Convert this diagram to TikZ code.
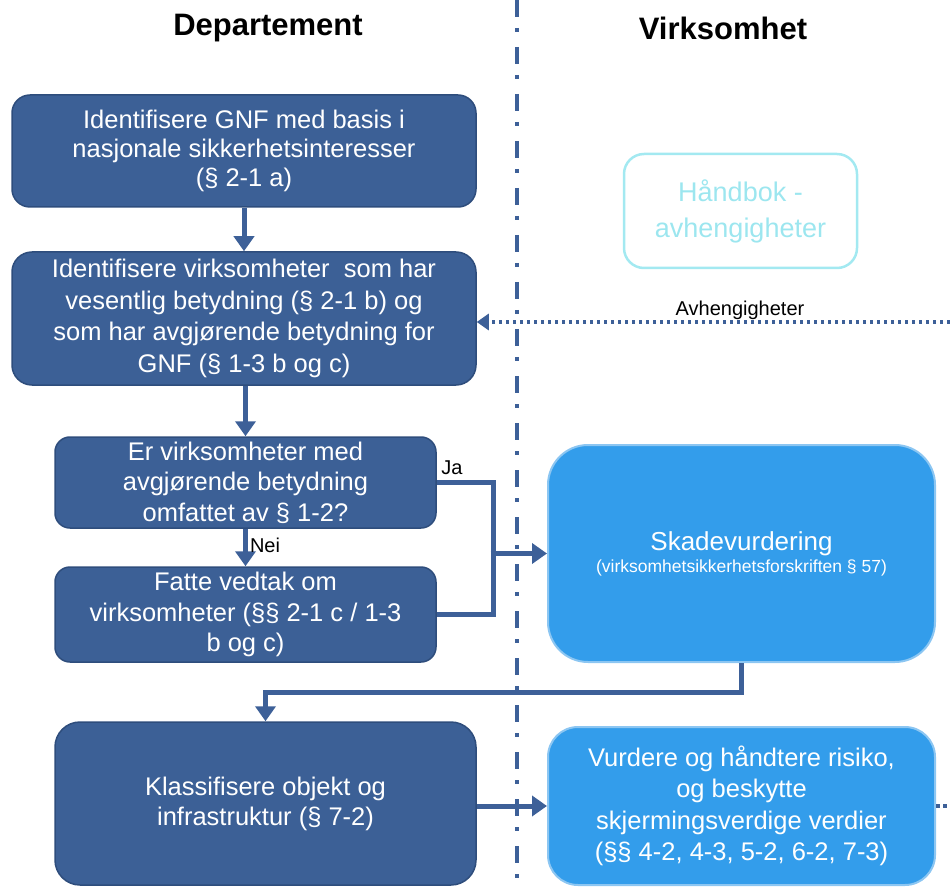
\documentclass[tikz,border=0pt]{standalone}
\usepackage{fontspec}
\setmainfont{Liberation Sans}
\usetikzlibrary{arrows.meta}
\definecolor{dkblue}{HTML}{3C6096}
\definecolor{dkborder}{HTML}{2E4D7C}
\definecolor{ltblue}{HTML}{339DEB}
\definecolor{ltborder}{HTML}{8CC6F2}
\definecolor{cyanline}{HTML}{A3E9F1}
\definecolor{cyantext}{HTML}{9CE6EF}
\definecolor{linecol}{HTML}{3D6098}
\tikzset{
  dkbox/.style={draw=dkborder, line width=1.5pt, fill=dkblue, text=white, align=center,
    font=\fontsize{25.5}{29}\selectfont, inner sep=0pt},
  ltbox/.style={draw=ltborder, line width=2pt, fill=ltblue, text=white, align=center,
    inner sep=0pt},
  conn/.style={draw=linecol, line width=5pt},
  arr/.style={conn, -{Triangle[width=20pt,length=15pt]}},
  dotconn/.style={draw=linecol, line width=3.5pt, dash pattern=on 3.5pt off 3.5pt},
  title/.style={font=\fontsize{31}{34}\selectfont\bfseries},
  lbl/.style={font=\fontsize{20}{22}\selectfont, text=black, inner sep=0pt}
}
\begin{document}
\begin{tikzpicture}[x=1pt,y=-1pt]
\useasboundingbox (0,0) rectangle (950,890);
% titles
\node[title] (t1) at (268,28) {Departement};
\node[title] (t2) at (723,28) {Virksomhet};
% divider
\coordinate (dv1) at (517,0);
\coordinate (dv2) at (517,890);
\draw[draw=linecol, line width=4pt, dash pattern=on 17pt off 11pt on 4pt off 15pt] (dv1) -- (dv2);
% boxes
\node[dkbox, rounded corners=18pt, minimum width=464pt, minimum height=112pt] (b1) at (244,151)
  {Identifisere GNF med basis i\\nasjonale sikkerhetsinteresser\\(§ 2-1 a)};
\node[dkbox, rounded corners=20pt, minimum width=464pt, minimum height=133pt, font=\fontsize{25.5}{31.5}\selectfont] (b2) at (244,318.5)
  {Identifisere virksomheter\ \ som har\\vesentlig betydning (§ 2-1 b) og\\som har avgjørende betydning for\\GNF (§ 1-3 b og c)};
\node[dkbox, rounded corners=15pt, minimum width=381pt, minimum height=91pt, font=\fontsize{25.5}{30.5}\selectfont] (b3) at (245.5,482.5)
  {Er virksomheter med\\avgjørende betydning\\omfattet av § 1-2?};
\node[dkbox, rounded corners=15pt, minimum width=381pt, minimum height=95pt, font=\fontsize{25.5}{30.5}\selectfont] (b4) at (245.5,614.5)
  {Fatte vedtak om\\virksomheter (§§ 2-1 c / 1-3\\b og c)};
\node[dkbox, rounded corners=25pt, minimum width=421pt, minimum height=163pt, font=\fontsize{25.5}{30}\selectfont] (b5) at (265.5,803.5)
  {Klassifisere objekt og\\infrastruktur (§ 7-2)};
\node[ltbox, rounded corners=40pt, minimum width=387pt, minimum height=217pt, font=\fontsize{17.5}{22}\selectfont] (sk) at (741.5,553.5)
  {{\fontsize{26}{30}\selectfont Skadevurdering}\\(virksomhetsikkerhetsforskriften § 57)};
\node[ltbox, rounded corners=30pt, minimum width=387pt, minimum height=158pt, font=\fontsize{25.5}{31.5}\selectfont] (b6) at (741.5,806)
  {Vurdere og håndtere risiko,\\og beskytte\\skjermingsverdige verdier\\(§§ 4-2, 4-3, 5-2, 6-2, 7-3)};
\node[draw=cyanline, line width=2.5pt, rounded corners=20pt, minimum width=233pt, minimum height=114pt,
  text=cyantext, align=center, font=\fontsize{27}{36}\selectfont, inner sep=0pt] (hb) at (740.5,211)
  {Håndbok -\\avhengigheter};
% connectors
\draw[arr] (b1) -- (b2);
\draw[arr] (b2.south -| b3.north) -- (b3.north);
\draw[arr] (b3) -- (b4) node[lbl, pos=0.45, right=2pt] {Nei};
\coordinate (j) at (493,553.5);
\draw[conn] (b3.east) -| (j);
\draw[conn] (b4.east) -| (j);
\draw[arr] ([xshift=-2.5pt]j) -- (sk.west);
\node[lbl] (ja) at (452,468) {Ja};
\coordinate (k) at (741.5,692);
\draw[arr] (sk.south) -- (k) -| (b5.north);
\draw[arr] (b5.east |- b6.west) -- (b6.west);
\coordinate (e2) at (950,806);
\draw[dotconn] (b6.east) -- (e2);
\coordinate (e1) at (950,322);
\draw[dotconn, -{Triangle[width=16pt,length=12pt,sep=0pt]}] (e1) -- (e1 -| b2.east);
\node[lbl] (av) at (740,310) {Avhengigheter};
\end{tikzpicture}
\end{document}
